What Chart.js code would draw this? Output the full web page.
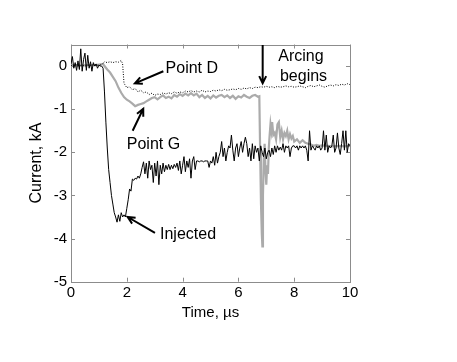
<!DOCTYPE html>
<html>
<head>
<meta charset="utf-8">
<script src="https://cdn.jsdelivr.net/npm/chart.js@4.4.0/dist/chart.umd.min.js"></script>
<style>
  html, body { margin: 0; padding: 0; background: #fff; }
  #c { display: block; }
</style>
</head>
<body>
<canvas id="c" width="457" height="362"></canvas>
<script>
// ---- data ----
const xTickValues = [0, 2, 4, 6, 8, 10];
const yTickValues = [-5, -4, -3, -2, -1, 0];

const timeInjected = [
  0.00,0.05,0.10,0.15,0.20,0.25,0.30,0.35,0.40,0.45,0.50,0.55,0.60,0.65,0.70,0.75,0.80,0.85,0.90,0.95,
  1.00,1.05,1.10,1.15,1.20,1.25,1.30,1.35,1.40,1.45,1.50,1.55,1.60,1.65,1.70,1.75,1.80,1.85,1.90,1.95,
  2.00,2.05,2.10,2.15,2.20,2.25,2.30,2.35,2.40,2.45,2.50,2.55,2.60,2.65,2.70,2.75,2.80,2.85,2.90,2.95,
  3.00,3.05,3.10,3.15,3.20,3.25,3.30,3.35,3.40,3.45,3.50,3.55,3.60,3.65,3.70,3.75,3.80,3.85,3.90,3.95,
  4.00,4.05,4.10,4.15,4.20,4.25,4.30,4.35,4.40,4.45,4.50,4.55,4.60,4.65,4.70,4.75,4.80,4.85,4.90,4.95,
  5.00,5.05,5.10,5.15,5.20,5.25,5.30,5.35,5.40,5.45,5.50,5.55,5.60,5.65,5.70,5.75,5.80,5.85,5.90,5.95,
  6.00,6.05,6.10,6.15,6.20,6.25,6.30,6.35,6.40,6.45,6.50,6.55,6.60,6.65,6.70,6.75,6.80,6.85,6.90,6.95,
  7.00,7.05,7.10,7.15,7.20,7.25,7.30,7.35,7.40,7.45,7.50,7.55,7.60,7.65,7.70,7.75,7.80,7.85,7.90,7.95,
  8.00,8.05,8.10,8.15,8.20,8.25,8.30,8.35,8.40,8.45,8.50,8.55,8.60,8.65,8.70,8.75,8.80,8.85,8.90,8.95,
  9.00,9.05,9.10,9.15,9.20,9.25,9.30,9.35,9.40,9.45,9.50,9.55,9.60,9.65,9.70,9.75,9.80,9.85,9.90,9.95,
  10.00
];
const injected = [
  0.05,0.22,-0.05,0.08,-0.10,0.12,-0.08,0.40,-0.12,0.15,0.30,-0.10,0.25,-0.05,0.10,-0.12,0.08,0.00,0.05,-0.05,
  0.02,0.00,0.00,-0.05,-0.60,-1.30,-1.90,-2.40,-2.70,-3.00,-3.20,-3.40,-3.50,-3.62,-3.45,-3.60,-3.40,-3.50,-3.45,-3.50,
  -3.30,-3.10,-2.85,-2.90,-2.62,-2.65,-2.60,-2.62,-2.55,-2.60,-2.50,-2.35,-2.22,-2.50,-2.25,-2.60,-2.20,-2.40,-2.30,-2.70,
  -2.25,-2.55,-2.20,-2.75,-2.30,-2.50,-2.25,-2.45,-2.30,-2.40,-2.28,-2.40,-2.30,-2.38,-2.28,-2.35,-2.25,-2.42,-2.20,-2.50,
  -2.30,-2.10,-2.45,-2.20,-2.35,-2.15,-2.60,-2.20,-2.10,-2.40,-2.20,-2.20,-2.22,-2.20,-2.20,-2.22,-2.20,-2.20,-2.20,-2.35,
  -2.20,-2.25,-2.10,-2.30,-2.00,-2.25,-2.10,-2.00,-1.75,-2.10,-1.90,-2.20,-2.00,-1.85,-1.90,-1.60,-1.95,-2.20,-1.90,-1.80,
  -2.10,-1.90,-1.75,-2.00,-1.80,-1.65,-1.80,-2.10,-1.90,-2.20,-1.80,-2.15,-1.85,-2.00,-1.90,-2.20,-1.85,-2.00,-2.10,-1.90,
  -2.15,-2.00,-1.95,-2.10,-1.90,-2.05,-1.85,-2.00,-1.85,-1.95,-1.88,-1.95,-1.80,-2.00,-1.85,-1.90,-1.85,-2.10,-1.90,-1.85,
  -1.85,-1.90,-1.85,-1.95,-1.85,-1.90,-1.85,-1.90,-1.85,-1.95,-2.20,-1.50,-1.95,-1.85,-1.90,-1.95,-1.85,-1.90,-1.85,-1.95,
  -1.90,-1.50,-1.95,-1.60,-2.00,-1.85,-1.90,-1.85,-1.60,-2.00,-1.90,-1.55,-1.90,-2.05,-1.80,-1.50,-1.95,-1.50,-2.00,-1.80,
  -1.85
];

const timePointD = [
  0.0,0.1,0.2,0.3,0.4,0.5,0.6,0.7,0.8,0.9,1.0,1.1,1.2,1.3,1.4,1.5,1.6,1.7,1.8,1.85,
  1.9,2.0,2.1,2.2,2.3,2.4,2.5,2.6,2.7,2.8,2.9,3.0,3.1,3.2,3.3,3.4,3.5,3.6,3.7,3.8,
  3.9,4.0,4.1,4.2,4.3,4.4,4.5,4.6,4.7,4.8,4.9,5.0,5.1,5.2,5.3,5.4,5.5,5.6,5.7,5.8,
  5.9,6.0,6.1,6.2,6.3,6.4,6.5,6.6,6.7,6.8,6.9,7.0,7.1,7.2,7.3,7.4,7.5,7.6,7.7,7.8,
  7.9,8.0,8.1,8.2,8.3,8.4,8.5,8.6,8.7,8.8,8.9,9.0,9.1,9.2,9.3,9.4,9.5,9.6,9.7,9.8,
  9.9,10.0
];
const pointD = [
  0.02,0.00,0.03,0.01,0.02,0.00,0.02,0.01,0.03,0.02,0.02,0.03,0.10,0.08,0.10,0.08,0.10,0.09,0.13,0.05,
  -0.40,-0.50,-0.48,-0.55,-0.52,-0.60,-0.56,-0.62,-0.60,-0.66,-0.63,-0.68,-0.65,-0.66,-0.62,-0.65,-0.62,-0.64,-0.60,-0.63,
  -0.60,-0.62,-0.58,-0.60,-0.57,-0.60,-0.58,-0.60,-0.56,-0.60,-0.58,-0.59,-0.56,-0.58,-0.55,-0.57,-0.54,-0.56,-0.55,-0.53,
  -0.55,-0.52,-0.54,-0.51,-0.53,-0.50,-0.52,-0.49,-0.50,-0.48,-0.49,-0.47,-0.49,-0.48,-0.50,-0.47,-0.49,-0.48,-0.46,-0.48,
  -0.47,-0.49,-0.48,-0.46,-0.48,-0.50,-0.47,-0.45,-0.48,-0.46,-0.44,-0.47,-0.49,-0.46,-0.44,-0.46,-0.43,-0.45,-0.42,-0.44,
  -0.41,-0.43
];

const timePointG = [
  0.0,0.3,0.6,0.9,1.15,1.2,1.3,1.4,1.5,1.6,1.7,1.8,1.9,2.0,2.1,2.2,2.3,2.4,2.5,2.6,
  2.7,2.8,2.9,3.0,3.1,3.2,3.3,3.4,3.5,3.6,3.7,3.8,3.9,4.0,4.1,4.2,4.3,4.4,4.5,4.6,
  4.7,4.8,4.9,5.0,5.1,5.2,5.3,5.4,5.5,5.6,5.7,5.8,5.9,6.0,6.1,6.2,6.3,6.4,6.5,6.6,
  6.7,6.75,6.78,6.81,6.84,6.86,6.88,6.91,6.94,6.97,7.0,7.03,7.06,7.09,7.12,7.15,7.18,7.21,7.25,7.3,
  7.35,7.4,7.45,7.5,7.55,7.6,7.65,7.7,7.75,7.8,7.85,7.9,7.95,8.0,8.1,8.2,8.3,8.4,8.5,8.6,
  8.7,8.8,8.9,9.0,9.2,9.4,9.6,9.8,10.0
];
const pointG = [
  0.02,0.01,0.02,0.02,0.05,0.00,-0.08,-0.15,-0.25,-0.35,-0.50,-0.62,-0.72,-0.78,-0.82,-0.87,-0.93,-0.90,-0.88,-0.86,
  -0.82,-0.78,-0.74,-0.72,-0.77,-0.72,-0.68,-0.74,-0.71,-0.75,-0.67,-0.71,-0.65,-0.69,-0.64,-0.68,-0.63,-0.68,-0.64,-0.72,
  -0.67,-0.74,-0.69,-0.75,-0.68,-0.73,-0.69,-0.67,-0.72,-0.68,-0.74,-0.69,-0.76,-0.70,-0.73,-0.67,-0.71,-0.74,-0.69,-0.67,
  -0.71,-0.70,-2.00,-3.20,-3.90,-4.18,-3.00,-2.20,-1.80,-2.40,-2.75,-2.30,-2.50,-1.90,-1.60,-1.35,-1.50,-1.30,-1.60,-1.55,
  -1.70,-1.35,-1.30,-1.65,-1.50,-1.70,-1.55,-1.62,-1.50,-1.70,-1.58,-1.68,-1.62,-1.75,-1.70,-1.78,-1.72,-1.78,-1.80,-1.82,
  -1.85,-1.83,-1.85,-1.84,-1.85,-1.86,-1.85,-1.86,-1.85
];

// annotations, in data units (time, kA)
const notes = [
  { text: 'Point D', x: 3.39, y: -0.05, from: [3.31, -0.12], to: [2.29, -0.40] },
  { text: 'Point G', x: 2.00, y: -1.81, from: [2.21, -1.50], to: [2.59, -0.99] },
  { text: 'Injected', x: 3.19, y: -3.91, from: [3.01, -3.87], to: [2.03, -3.50] },
  { text: 'Arcing', x: 7.43, y: 0.22, from: [6.87, 0.49], to: [6.87, -0.40] },
  { text: 'begins', x: 7.49, y: -0.25 }
];

const pairs = (xs, ys) => xs.map((x, i) => ({ x: x, y: ys[i] }));
const FONT = "'Liberation Sans', Arial, sans-serif";
const FRAME = '#8c8c8c';

const framePlugin = {
  id: 'frame',
  beforeDatasetsDraw(chart) {
    const { ctx, chartArea: a, scales } = chart;
    ctx.save();
    ctx.strokeStyle = FRAME;
    ctx.lineWidth = 1;
    ctx.strokeRect(Math.round(a.left) + 0.5, Math.round(a.top) + 0.5,
      Math.round(a.right - a.left), Math.round(a.bottom - a.top));
    const L = 4;
    ctx.beginPath();
    xTickValues.forEach(v => {
      const px = Math.round(scales.x.getPixelForValue(v)) + 0.5;
      ctx.moveTo(px, a.bottom); ctx.lineTo(px, a.bottom - L);
      ctx.moveTo(px, a.top); ctx.lineTo(px, a.top + L);
    });
    yTickValues.forEach(v => {
      const py = Math.round(scales.y.getPixelForValue(v)) + 0.5;
      ctx.moveTo(a.left, py); ctx.lineTo(a.left + L, py);
      ctx.moveTo(a.right, py); ctx.lineTo(a.right - L, py);
    });
    ctx.stroke();
    ctx.restore();
  },
  afterDatasetsDraw(chart) {
    const { ctx, scales } = chart;
    const X = v => scales.x.getPixelForValue(v);
    const Y = v => scales.y.getPixelForValue(v);
    ctx.save();
    ctx.fillStyle = '#000';
    ctx.strokeStyle = '#000';
    ctx.font = '16px ' + FONT;
    ctx.textAlign = 'left';
    ctx.textBaseline = 'middle';
    notes.forEach(n => {
      ctx.fillText(n.text, X(n.x), Y(n.y));
      if (n.from) {
        const x1 = X(n.from[0]), y1 = Y(n.from[1]);
        const x2 = X(n.to[0]), y2 = Y(n.to[1]);
        ctx.lineWidth = 2;
        ctx.beginPath();
        ctx.moveTo(x1, y1); ctx.lineTo(x2, y2);
        const ang = Math.atan2(y2 - y1, x2 - x1);
        const h = 8, w = 0.45;
        ctx.moveTo(x2 - h * Math.cos(ang - w), y2 - h * Math.sin(ang - w));
        ctx.lineTo(x2, y2);
        ctx.lineTo(x2 - h * Math.cos(ang + w), y2 - h * Math.sin(ang + w));
        ctx.stroke();
      }
    });
    ctx.restore();
  }
};

new Chart(document.getElementById('c'), {
  type: 'line',
  data: {
    datasets: [
      { label: 'Point G', data: pairs(timePointG, pointG), borderColor: '#ababab', borderWidth: 2.2,
        pointRadius: 0, tension: 0, order: 3 },
      { label: 'Injected', data: pairs(timeInjected, injected), borderColor: '#000', borderWidth: 1,
        pointRadius: 0, tension: 0, order: 2 },
      { label: 'Point D', data: pairs(timePointD, pointD), borderColor: '#000', borderWidth: 1,
        borderDash: [1, 1.5], pointRadius: 0, tension: 0, order: 1 }
    ]
  },
  options: {
    responsive: false,
    animation: false,
    devicePixelRatio: 1,
    layout: { padding: { top: 44.5, right: 107, left: 0, bottom: 0 } },
    plugins: { legend: { display: false }, tooltip: { enabled: false } },
    scales: {
      x: {
        type: 'linear', min: 0, max: 10,
        afterBuildTicks: s => { s.ticks = xTickValues.map(v => ({ value: v })); },
        afterFit: s => { s.height = 80.3; },
        grid: { display: false, drawTicks: false },
        border: { display: false },
        ticks: { color: '#000', padding: 2, maxRotation: 0, autoSkip: false,
          font: { family: FONT, size: 15 } },
        title: { display: true, text: 'Time, \u00b5s', color: '#000',
          font: { family: FONT, size: 15 }, padding: { top: 0, bottom: 40 } }
      },
      y: {
        type: 'linear', min: -5, max: 0.5,
        afterBuildTicks: s => { s.ticks = yTickValues.map(v => ({ value: v })); },
        afterFit: s => { s.width = 71; },
        grid: { display: false, drawTicks: false },
        border: { display: false },
        ticks: { color: '#000', padding: 4, autoSkip: false,
          font: { family: FONT, size: 15 } },
        title: { display: true, text: 'Current, kA', color: '#000',
          font: { family: FONT, size: 16 }, padding: { top: 27, bottom: 0 } }
      }
    }
  },
  plugins: [framePlugin]
});
</script>
</body>
</html>
